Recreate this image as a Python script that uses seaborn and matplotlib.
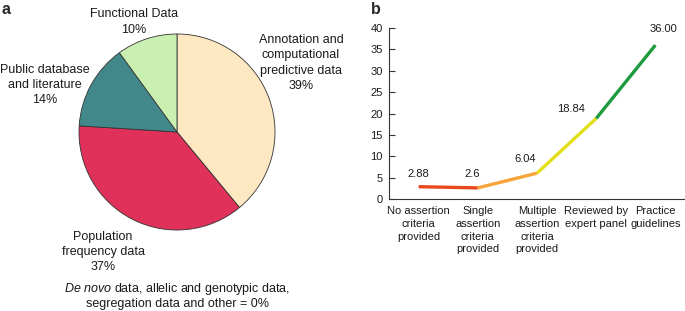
#!/usr/bin/env python3

import matplotlib
matplotlib.use("Agg")
import matplotlib.pyplot as plt
import seaborn as sns
import pandas as pd

# panel a: evidence types
pie_labels = ["Annotation and\ncomputational\npredictive data",
              "Population\nfrequency data",
              "Public database\nand literature",
              "Functional Data"]
pie_values = [39, 37, 14, 10]
pie_colors = ["#fde8c2", "#df3159", "#42878a", "#c9f0b1"]

# panel b: review status
categories = ["No assertion\ncriteria\nprovided",
              "Single\nassertion\ncriteria\nprovided",
              "Multiple\nassertion\ncriteria\nprovided",
              "Reviewed by\nexpert panel",
              "Practice\nguidelines"]
values = [2.88, 2.6, 6.04, 18.84, 36.00]
value_text = ["2.88", "2.6", "6.04", "18.84", "36.00"]
seg_colors = ["#e8481d", "#f7a438", "#e2de1a", "#1d9a3e"]

sns.set_theme(style="white")
plt.rcParams['font.family'] = ['Liberation Sans', 'DejaVu Sans']
plt.rcParams['mathtext.fontset'] = 'custom'
plt.rcParams['mathtext.rm'] = 'Liberation Sans'
plt.rcParams['mathtext.it'] = 'Liberation Sans:italic'
FS = 9     # panel a text
FSB = 8    # panel b text
TXT = "#1a1a1a"

W, H = 685, 311
fig = plt.figure(figsize=(W / 100, H / 100), dpi=100)


def box(x0, y0, x1, y1):
    # pixel box (top-left origin) -> figure fraction rect
    return [x0 / W, 1 - y1 / H, (x1 - x0) / W, (y1 - y0) / H]


def px(x, y):
    return x / W, 1 - y / H


# ---- a: pie ----
ax1 = fig.add_axes(box(78, 33, 276, 231))
ax1.pie(pie_values, colors=pie_colors, startangle=90, counterclock=False,
        wedgeprops=dict(edgecolor="#333333", linewidth=0.6))
ax1.set_xlim(-1.01, 1.01)
ax1.set_ylim(-1.01, 1.01)
ax1.set_aspect("equal")

label_pos = [(301, 63), (103, 252), (45, 85), (134, 22)]
for lab, v, (x, y) in zip(pie_labels, pie_values, label_pos):
    fig.text(*px(x, y), f"{lab}\n{v}%", ha="center", va="center",
             fontsize=FS, linespacing=1.35, color=TXT)

fig.text(*px(177, 289), r"$\it{De\ novo}$ data, allelic and genotypic data,",
         ha="center", va="center", fontsize=FS, color=TXT)
fig.text(*px(177, 304), "segregation data and other = 0%",
         ha="center", va="center", fontsize=FS, color=TXT)

fig.text(*px(2, 10), "a", fontsize=11.5, fontweight="bold", va="center")
fig.text(*px(371, 10), "b", fontsize=11.5, fontweight="bold", va="center")

# ---- b: line ----
ax2 = fig.add_axes(box(389, 28, 685, 199))
rows = []
for i in range(len(values) - 1):
    rows.append(dict(x=i, y=values[i], seg=i))
    rows.append(dict(x=i + 1, y=values[i + 1], seg=i))
df = pd.DataFrame(rows)
sns.lineplot(data=df, x="x", y="y", hue="seg", palette=seg_colors,
             linewidth=2.4, legend=False, ax=ax2, solid_capstyle="butt")

offsets = [(0, 13), (-6, 14), (-12, 14), (-25, 9), (8, 16)]
for i, (v, t) in enumerate(zip(values, value_text)):
    dx, dy = offsets[i]
    ax2.annotate(t, (i, v), xytext=(dx * 0.72, dy * 0.72),
                 textcoords="offset points", ha="center", va="center",
                 fontsize=FSB, color=TXT)

ax2.set_xlim(-0.5, 4.5)
ax2.set_ylim(0, 40)
ax2.set_yticks(range(0, 41, 5))
ax2.set_xticks(range(5))
ax2.set_xticklabels(categories, fontsize=FSB, linespacing=1.35, va="top",
                    color=TXT)
ax2.set_xticks([i + 0.5 for i in range(5)], minor=True)
ax2.tick_params(axis="x", which="major", length=0, pad=5)
ax2.tick_params(axis="x", which="minor", direction="in", length=4,
                width=0.8, color="#333333")
ax2.tick_params(axis="y", direction="in", length=4, width=0.8,
                color="#333333", labelsize=FSB, labelcolor=TXT, pad=4.5,
                left=True)
ax2.set_xlabel("")
ax2.set_ylabel("")
for s in ["top", "right"]:
    ax2.spines[s].set_visible(False)
for s in ["left", "bottom"]:
    ax2.spines[s].set_color("#333333")
    ax2.spines[s].set_linewidth(0.8)
ax2.set_facecolor("none")

fig.savefig("out.png", dpi=100)
plt.close(fig)
